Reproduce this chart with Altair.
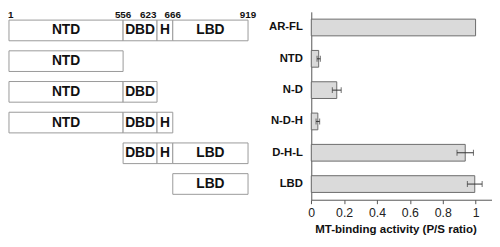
import altair as alt
import pandas as pd

FONT = "Liberation Sans"

# ---- data ----
constructs = ["AR-FL", "NTD", "N-D", "N-D-H", "D-H-L", "LBD"]
construct_domains = [
    ["NTD", "DBD", "H", "LBD"],
    ["NTD"],
    ["NTD", "DBD"],
    ["NTD", "DBD", "H"],
    ["DBD", "H", "LBD"],
    ["LBD"],
]
domain_names = ["NTD", "DBD", "H", "LBD"]
domain_start = [1, 556, 623, 666]
domain_end = [556, 623, 666, 919]
boundaries = [1, 556, 623, 666, 919]

activity = [1.0, 0.045, 0.155, 0.04, 0.937, 0.995]
act_error = [0.0, 0.01, 0.027, 0.011, 0.05, 0.045]
tick_values = [0, 0.2, 0.4, 0.6, 0.8, 1]

# ---- tables ----
rows = []
for c, doms in zip(constructs, construct_domains):
    for d in doms:
        i = domain_names.index(d)
        rows.append({"construct": c, "domain": d, "start": domain_start[i], "end": domain_end[i]})
boxes_df = pd.DataFrame(rows)
bnd_df = pd.DataFrame({"residue": boundaries, "construct": constructs[0]})
bar_df = pd.DataFrame({"construct": constructs, "activity": activity, "err": act_error})

# ---- diagram (left) ----
res_scale = alt.Scale(domain=boundaries, range=[1, 117, 151.5, 167.5, 244], zero=False, nice=False)
row_scale = alt.Scale(domain=constructs, range=[5.3, 192.6], paddingInner=0, paddingOuter=0)

ydiag = alt.Y("construct:N", scale=row_scale, axis=None)

boxes = alt.Chart(boxes_df).mark_bar(
    height=21, fill="white", stroke="#999999", strokeWidth=1
).encode(
    x=alt.X("start:Q", scale=res_scale, axis=None),
    x2="end:Q",
    y=ydiag,
)

names = alt.Chart(boxes_df).transform_calculate(
    mid="(datum.start + datum.end) / 2"
).mark_text(font=FONT, fontSize=14, fontWeight="bold", color="#111").encode(
    x=alt.X("mid:Q", scale=res_scale, axis=None),
    y=ydiag,
    text="domain:N",
)

bnd_base = alt.Chart(bnd_df).encode(
    x=alt.X("residue:Q", scale=res_scale, axis=None),
    y=ydiag,
    text="residue:N",
)
bnd_mid = bnd_base.transform_filter(
    "datum.residue != 1 && datum.residue != 623"
).mark_text(font=FONT, fontSize=10, fontWeight="bold", color="#111",
            baseline="alphabetic", dy=-12.5)
bnd_first = bnd_base.transform_filter("datum.residue == 1").mark_text(
    font=FONT, fontSize=10, fontWeight="bold", color="#111",
    baseline="alphabetic", dy=-12.5, align="left", dx=-1)
bnd_623 = bnd_base.transform_filter("datum.residue == 623").mark_text(
    font=FONT, fontSize=10, fontWeight="bold", color="#111",
    baseline="alphabetic", dy=-12.5, dx=-9)

diagram = alt.layer(boxes, names, bnd_mid, bnd_first, bnd_623)

# ---- bar chart (right) ----
act_scale = alt.Scale(domain=[0, 1.1], range=[308.3, 492], nice=False)
bar_row_scale = alt.Scale(domain=constructs, range=[2, 193], paddingInner=0, paddingOuter=0)

xaxis = alt.Axis(
    orient="bottom", values=tick_values, format="~g", grid=False,
    labelFlush=False, labelFont=FONT, labelFontSize=12.5, labelColor="#222",
    labelPadding=3, tickSize=4, tickColor="#555", domainColor="#555",
    title="MT-binding activity (P/S ratio)", titleFont=FONT, titleFontSize=11.7,
    titleFontWeight="bold", titleColor="#111", titleX=394, titlePadding=5,
)
yaxis = alt.Axis(
    orient="left", offset=-308.3, ticks=False, labelPadding=9, labelFont=FONT,
    labelFontSize=11.5, labelFontWeight="bold", labelColor="#111",
    domainColor="#555", title=None, grid=False,
)

ybar = alt.Y("construct:N", scale=bar_row_scale, axis=yaxis)

bars = alt.Chart(bar_df).mark_bar(
    height=17, fill="#dadada", stroke="#6a6a6a", strokeWidth=1
).encode(
    x=alt.X("activity:Q", scale=act_scale, axis=xaxis),
    y=ybar,
)

err_base = alt.Chart(bar_df).transform_filter("datum.err > 0").transform_calculate(
    lo="datum.activity - datum.err", hi="datum.activity + datum.err"
)
err_rule = err_base.mark_rule(color="#333", strokeWidth=1).encode(
    x=alt.X("lo:Q", scale=act_scale), x2="hi:Q", y=ybar
)
cap_hi = err_base.mark_tick(color="#333", size=6, thickness=1).encode(
    x=alt.X("hi:Q", scale=act_scale), y=ybar
)
cap_lo = err_base.mark_tick(color="#333", size=6, thickness=1).encode(
    x=alt.X("lo:Q", scale=act_scale), y=ybar
)

barchart = alt.layer(bars, err_rule, cap_hi, cap_lo)

chart = alt.layer(diagram, barchart).resolve_scale(
    x="independent", y="independent"
).properties(width=492, height=193, padding=0).configure_view(stroke=None)

chart.save("out.html", embed_options={"renderer": "svg", "actions": False})
